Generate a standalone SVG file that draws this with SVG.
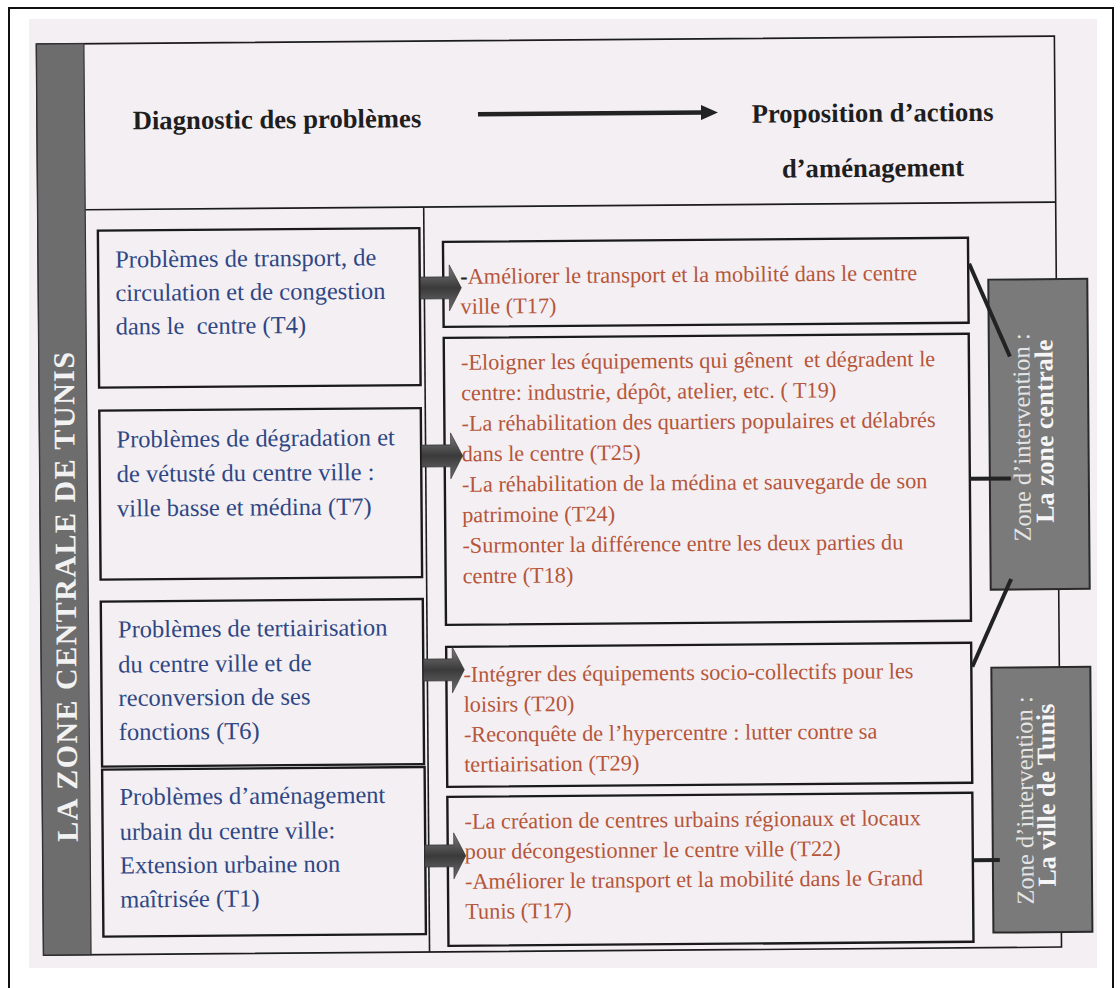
<svg xmlns="http://www.w3.org/2000/svg" width="1120" height="988" viewBox="0 0 1120 988">
<defs>
<style>
.frame{fill:none;stroke:#1c1c1c;stroke-width:1.6}
.box{fill:none;stroke:#1a1a1a;stroke-width:2.4}
.pb{font-family:"Liberation Serif","Times New Roman",serif;font-size:24.5px;fill:#2e4784}
.ac{font-family:"Liberation Serif","Times New Roman",serif;font-size:22.3px;fill:#b5563a}
.hd{font-family:"Liberation Serif","Times New Roman",serif;font-size:26.7px;font-weight:bold;fill:#1e1e1e}
.zr{font-family:"Liberation Serif","Times New Roman",serif;font-size:24.5px;fill:#e4e4e4}
.zb{font-family:"Liberation Serif","Times New Roman",serif;font-size:26px;font-weight:bold;fill:#f6f6f6}
.band{font-family:"Liberation Serif","Times New Roman",serif;font-size:30px;font-weight:bold;fill:#f2f2f2}
.conn{stroke:#222;stroke-width:4;fill:none}
.fat{fill:url(#fatg);stroke:#2a2a2a;stroke-width:0.6}
.zone{fill:#7a7a7a;stroke:#2a2a2a;stroke-width:2}
</style>
<linearGradient id="fatg" x1="0" y1="0" x2="0" y2="1">
<stop offset="0" stop-color="#7c7c7c"/>
<stop offset="0.5" stop-color="#3a3a3a"/>
<stop offset="1" stop-color="#6e6e6e"/>
</linearGradient>
<marker id="ah" markerWidth="17" markerHeight="15" refX="2" refY="7.5" orient="auto" markerUnits="userSpaceOnUse">
<path d="M0,0 L17,7.5 L0,15 Z" fill="#222"/>
</marker>
<path id="fatArrow" class="fat" d="M0,-11 L29,-11 L29,-23 L41,0 L29,23 L29,11 L0,11 Z"/>
</defs>

<rect x="9" y="8" width="1104" height="1010" fill="#ffffff" stroke="#111" stroke-width="2"/>
<rect x="29" y="19" width="1068" height="949" fill="#f4eff3"/>

<g transform="rotate(-0.45 560 500)">
<g id="table">
<path class="frame" d="M40,40 H1058 V951 H40 Z"/>
<path class="frame" d="M87.5,206 H1058"/>
<path class="frame" d="M426,206 V951"/>
</g>

<g id="band">
<rect x="40" y="40" width="47.5" height="911" fill="#6d6d6d" stroke="#333" stroke-width="1.2"/>
<text class="band" transform="translate(75,593) rotate(-90)" text-anchor="middle" textLength="490" lengthAdjust="spacing">LA ZONE CENTRALE DE TUNIS</text>
</g>

<g id="header">
<text class="hd" x="135.6" y="126">Diagnostic des problèmes</text>
<text class="hd" x="875.6" y="124.2" text-anchor="middle">Proposition d’actions</text>
<text class="hd" x="875.6" y="179.2" text-anchor="middle">d’aménagement</text>
</g>

<g id="p1">
<rect class="box" x="100" y="227" width="321.5" height="157"/>
<text class="pb" x="117" y="264">Problèmes de transport, de</text>
<text class="pb" x="117" y="297.5">circulation et de congestion</text>
<text class="pb" x="117" y="331" xml:space="preserve">dans le  centre (T4)</text>
</g>
<g id="p2">
<rect class="box" x="100" y="407" width="321.5" height="169"/>
<text class="pb" x="117" y="444">Problèmes de dégradation et</text>
<text class="pb" x="117" y="478.5">de vétusté du centre ville :</text>
<text class="pb" x="117" y="513">ville basse et médina (T7)</text>
</g>
<g id="p3">
<rect class="box" x="100" y="598" width="322" height="165"/>
<text class="pb" x="117" y="634">Problèmes de tertiairisation</text>
<text class="pb" x="117" y="669">du centre ville et de</text>
<text class="pb" x="117" y="702.5">reconversion de ses</text>
<text class="pb" x="117" y="736.5">fonctions (T6)</text>
</g>
<g id="p4">
<rect class="box" x="100" y="766" width="322.5" height="167"/>
<text class="pb" x="117" y="801.5">Problèmes d’aménagement</text>
<text class="pb" x="117" y="836.5">urbain du centre ville:</text>
<text class="pb" x="117" y="870">Extension urbaine non</text>
<text class="pb" x="117" y="904">maîtrisée (T1)</text>
</g>

<g id="a1">
<rect class="box" x="445" y="241" width="525" height="85"/>
<text class="ac" x="462" y="283"><tspan fill="#1e1e1e" font-weight="bold">-</tspan>Améliorer le transport et la mobilité dans le centre</text>
<text class="ac" x="462" y="313">ville (T17)</text>
</g>
<g id="a2">
<rect class="box" x="445" y="337" width="525" height="287"/>
<text class="ac" x="462" y="369" xml:space="preserve">-Eloigner les équipements qui gênent  et dégradent le</text>
<text class="ac" x="462" y="399.5">centre: industrie, dépôt, atelier, etc. ( T19)</text>
<text class="ac" x="462" y="430">-La réhabilitation des quartiers populaires et délabrés</text>
<text class="ac" x="462" y="460.5">dans le centre (T25)</text>
<text class="ac" x="462" y="491">-La réhabilitation de la médina et sauvegarde de son</text>
<text class="ac" x="462" y="521.5">patrimoine (T24)</text>
<text class="ac" x="462" y="552">-Surmonter la différence entre les deux parties du</text>
<text class="ac" x="462" y="582.5">centre (T18)</text>
</g>
<g id="a3">
<rect class="box" x="445" y="646" width="525" height="140"/>
<text class="ac" x="462" y="681">-Intégrer des équipements socio-collectifs pour les</text>
<text class="ac" x="462" y="711">loisirs (T20)</text>
<text class="ac" x="462" y="741">-Reconquête de l’hypercentre : lutter contre sa</text>
<text class="ac" x="462" y="771">tertiairisation (T29)</text>
</g>
<g id="a4">
<rect class="box" x="445" y="796" width="525" height="149"/>
<text class="ac" x="462" y="828">-La création de centres urbains régionaux et locaux</text>
<text class="ac" x="462" y="858">pour décongestionner le centre ville (T22)</text>
<text class="ac" x="462" y="888">-Améliorer le transport et la mobilité dans le Grand</text>
<text class="ac" x="462" y="918">Tunis (T17)</text>
</g>

<g id="connectors">
<line x1="481" y1="113.7" x2="706" y2="113.7" stroke="#222" stroke-width="4.5" marker-end="url(#ah)"/>
<use href="#fatArrow" x="422" y="287"/>
<use href="#fatArrow" x="422" y="455"/>
<use href="#fatArrow" x="422" y="669"/>
<use href="#fatArrow" x="422" y="855"/>
</g>

<g id="z1">
<rect class="zone" x="990" y="283" width="99" height="310"/>
<text class="zr" transform="translate(1030.5,441) rotate(-90)" text-anchor="middle">Zone d’intervention :</text>
<text class="zb" transform="translate(1053.6,435) rotate(-90)" text-anchor="middle">La zone centrale</text>
</g>
<g id="z2">
<rect class="zone" x="990" y="671" width="99" height="265"/>
<text class="zr" transform="translate(1030.6,804) rotate(-90)" text-anchor="middle">Zone d’intervention :</text>
<text class="zb" transform="translate(1052.6,799) rotate(-90)" text-anchor="middle">La ville de Tunis</text>
</g>

<g id="zone-links">
<line class="conn" x1="971" y1="267" x2="1011" y2="360"/>
<line class="conn" x1="970" y1="482" x2="1011" y2="482"/>
<line class="conn" x1="1010.5" y1="582.5" x2="971" y2="670"/>
<line class="conn" x1="970" y1="863.5" x2="997" y2="863.5"/>
</g>
</g>
</svg>
